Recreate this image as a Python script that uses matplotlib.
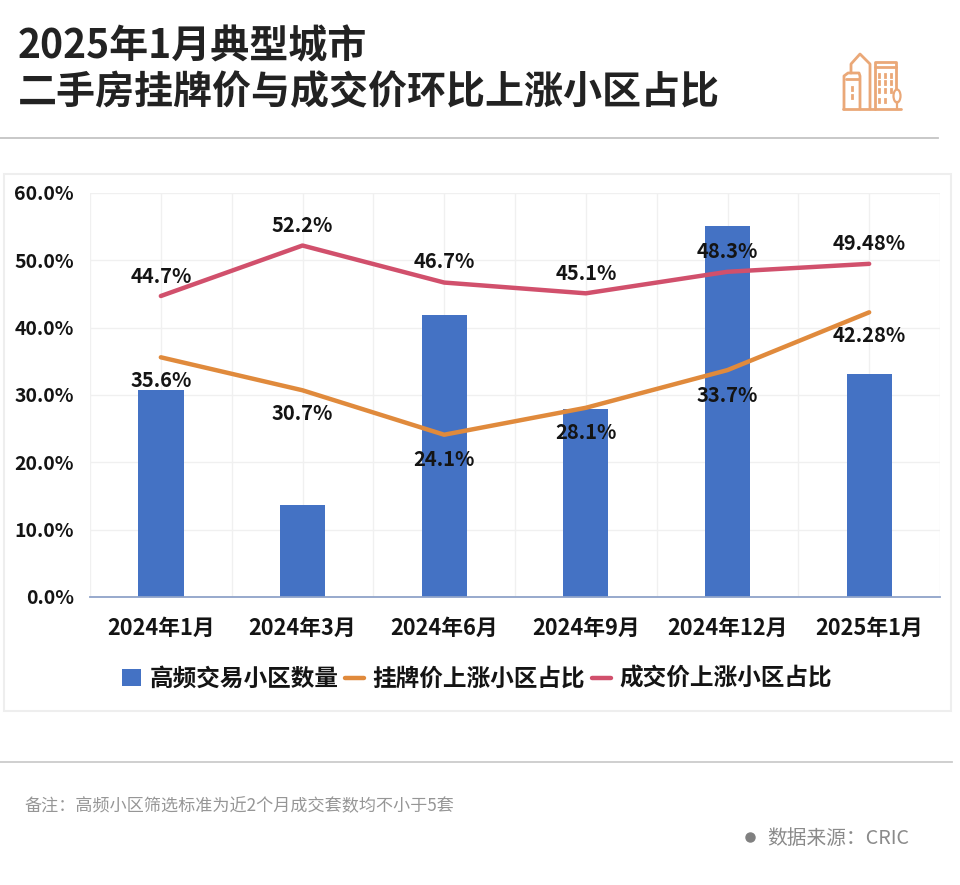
#!/usr/bin/env python3
"""2025年1月典型城市 二手房挂牌价与成交价环比上涨小区占比"""

import matplotlib
matplotlib.use('Agg')
import matplotlib.pyplot as plt
import matplotlib.patches as patches
from matplotlib.ticker import FuncFormatter

plt.rcParams['font.family'] = ['Noto Sans CJK SC', 'DejaVu Sans']

months = ['2024年1月', '2024年3月', '2024年6月', '2024年9月', '2024年12月', '2025年1月']
high_freq_count = [30.7, 13.7, 41.9, 27.9, 55.1, 33.1]
listing_share = [35.6, 30.7, 24.1, 28.1, 33.7, 42.28]
deal_share = [44.7, 52.2, 46.7, 45.1, 48.3, 49.48]
listing_labels = ['35.6%', '30.7%', '24.1%', '28.1%', '33.7%', '42.28%']
deal_labels = ['44.7%', '52.2%', '46.7%', '45.1%', '48.3%', '49.48%']

W, H = 960, 885
BLUE = '#4472c4'
ORANGE = '#e08a3c'
RED = '#d1506c'
ICON = '#eaa878'
TEXT = '#141414'

fig = plt.figure(figsize=(W / 100, H / 100), dpi=100, facecolor='white')

# Overlay in pixel coordinates for header, footer and panel
bg = fig.add_axes([0, 0, 1, 1])
bg.set_xlim(0, W)
bg.set_ylim(H, 0)
bg.axis('off')

bg.text(18, 47, '2025年1月典型城市', fontsize=28.1, fontweight='bold', color='#222222',
        va='center', ha='left')
bg.text(18, 93, '二手房挂牌价与成交价环比上涨小区占比', fontsize=28.1, fontweight='bold',
        color='#222222', va='center', ha='left')
bg.plot([0, 938], [137.5, 137.5], color='#c4c4c4', lw=1.3)
bg.plot([0, 952], [762, 762], color='#cccccc', lw=1.3)
bg.add_patch(patches.Rectangle((4, 174), 947, 537, fc='white', ec='#eeeeee', lw=1.5))

# Building icon
icon_lines = [
    [(844, 109), (844, 76), (848, 73), (859, 73), (860, 76), (860, 109)],
    [(851, 73), (851, 64), (860, 54), (870, 64), (870, 109)],
    [(875, 109), (875, 62), (896, 62), (896, 90)],
    [(875, 67), (896, 67)],
    [(843, 109), (901, 109)],
    [(846, 79), (859, 79)],
]
for seg in icon_lines:
    bg.plot(*zip(*seg), color=ICON, lw=2, solid_capstyle='round')
bg.add_patch(patches.Ellipse((897, 96), 7, 13, fc='white', ec=ICON, lw=1.6, zorder=3))
bg.plot([897, 897], [102, 109], color=ICON, lw=1.6, zorder=3)
for wx in (879, 885, 891):
    for wy in (75, 82, 90):
        bg.plot([wx, wx], [wy - 1.5, wy + 1.5], color=ICON, lw=2)
for wx in (879, 885):
    bg.plot([wx, wx], [98.5, 101.5], color=ICON, lw=2)
for wy in (88, 96):
    bg.plot([852, 852], [wy - 1.5, wy + 1.5], color=ICON, lw=2)

bg.text(24, 806, '备注：高频小区筛选标准为近2个月成交套数均不小于5套', fontsize=12.3,
        color='#969696', va='center', ha='left')
bg.plot([750], [837], 'o', color='#808080', ms=6.5)
bg.text(767, 839, '数据来源：CRIC', fontsize=14.2, color='#8a8a8a', va='center', ha='left')

# Chart: y 0.0% at pixel 597, 60.0% at pixel 193
ax = fig.add_axes([90 / W, 1 - 597 / H, 850 / W, 404 / H])
ax.patch.set_alpha(0)
x = list(range(len(months)))
bars = ax.bar(x, high_freq_count, width=0.32, color=BLUE, zorder=2)
line_listing, = ax.plot(x, listing_share, color=ORANGE, lw=3.2, zorder=3,
                        solid_capstyle='round', solid_joinstyle='round')
line_deal, = ax.plot(x, deal_share, color=RED, lw=3.2, zorder=3,
                     solid_capstyle='round', solid_joinstyle='round')

ax.set_xlim(-0.5, 5.5)
ax.set_ylim(0, 60)
ax.set_yticks([0, 10, 20, 30, 40, 50, 60])
ax.yaxis.set_major_formatter(FuncFormatter(lambda v, _: f'{v:.1f}%'))
ax.set_xticks(x)
ax.set_xticklabels(months)
ax.set_xticks([i - 0.5 for i in range(7)], minor=True)
ax.tick_params(axis='both', which='both', length=0)
ax.tick_params(axis='y', labelsize=14, labelcolor=TEXT, pad=11.5)
ax.tick_params(axis='x', labelsize=15.7, labelcolor=TEXT, pad=14.5)
for lab in ax.get_xticklabels() + ax.get_yticklabels():
    lab.set_fontweight('bold')
ax.grid(True, which='major', color='#f0f0f0', lw=1, zorder=0)
ax.grid(True, which='minor', axis='x', color='#f0f0f0', lw=1, zorder=0)
for name in ('top', 'left', 'right'):
    ax.spines[name].set_visible(False)
ax.spines['bottom'].set_color('#8fa3c9')
ax.spines['bottom'].set_linewidth(1.3)

# Data labels, offsets in points from each line vertex
listing_offsets = [-16.5, -17, -18, -18, -18, -17]
deal_offsets = [14, 14.5, 15, 14, 14.5, 15]
for i in x:
    ax.annotate(listing_labels[i], (i, listing_share[i]), xytext=(0, listing_offsets[i]),
                textcoords='offset points', ha='center', va='center', fontsize=14.5,
                fontweight='bold', color=TEXT, zorder=5)
    ax.annotate(deal_labels[i], (i, deal_share[i]), xytext=(0, deal_offsets[i]),
                textcoords='offset points', ha='center', va='center', fontsize=14.5,
                fontweight='bold', color=TEXT, zorder=5)

fig.legend([bars, line_listing, line_deal],
           ['高频交易小区数量', '挂牌价上涨小区占比', '成交价上涨小区占比'],
           loc='center', bbox_to_anchor=(477 / W, 1 - 679 / H), ncol=3, frameon=False,
           prop={'size': 17, 'weight': 'bold'}, columnspacing=0.3, handlelength=0.8,
           handletextpad=0.35, labelcolor=TEXT)

fig.savefig('out.png', dpi=100)
